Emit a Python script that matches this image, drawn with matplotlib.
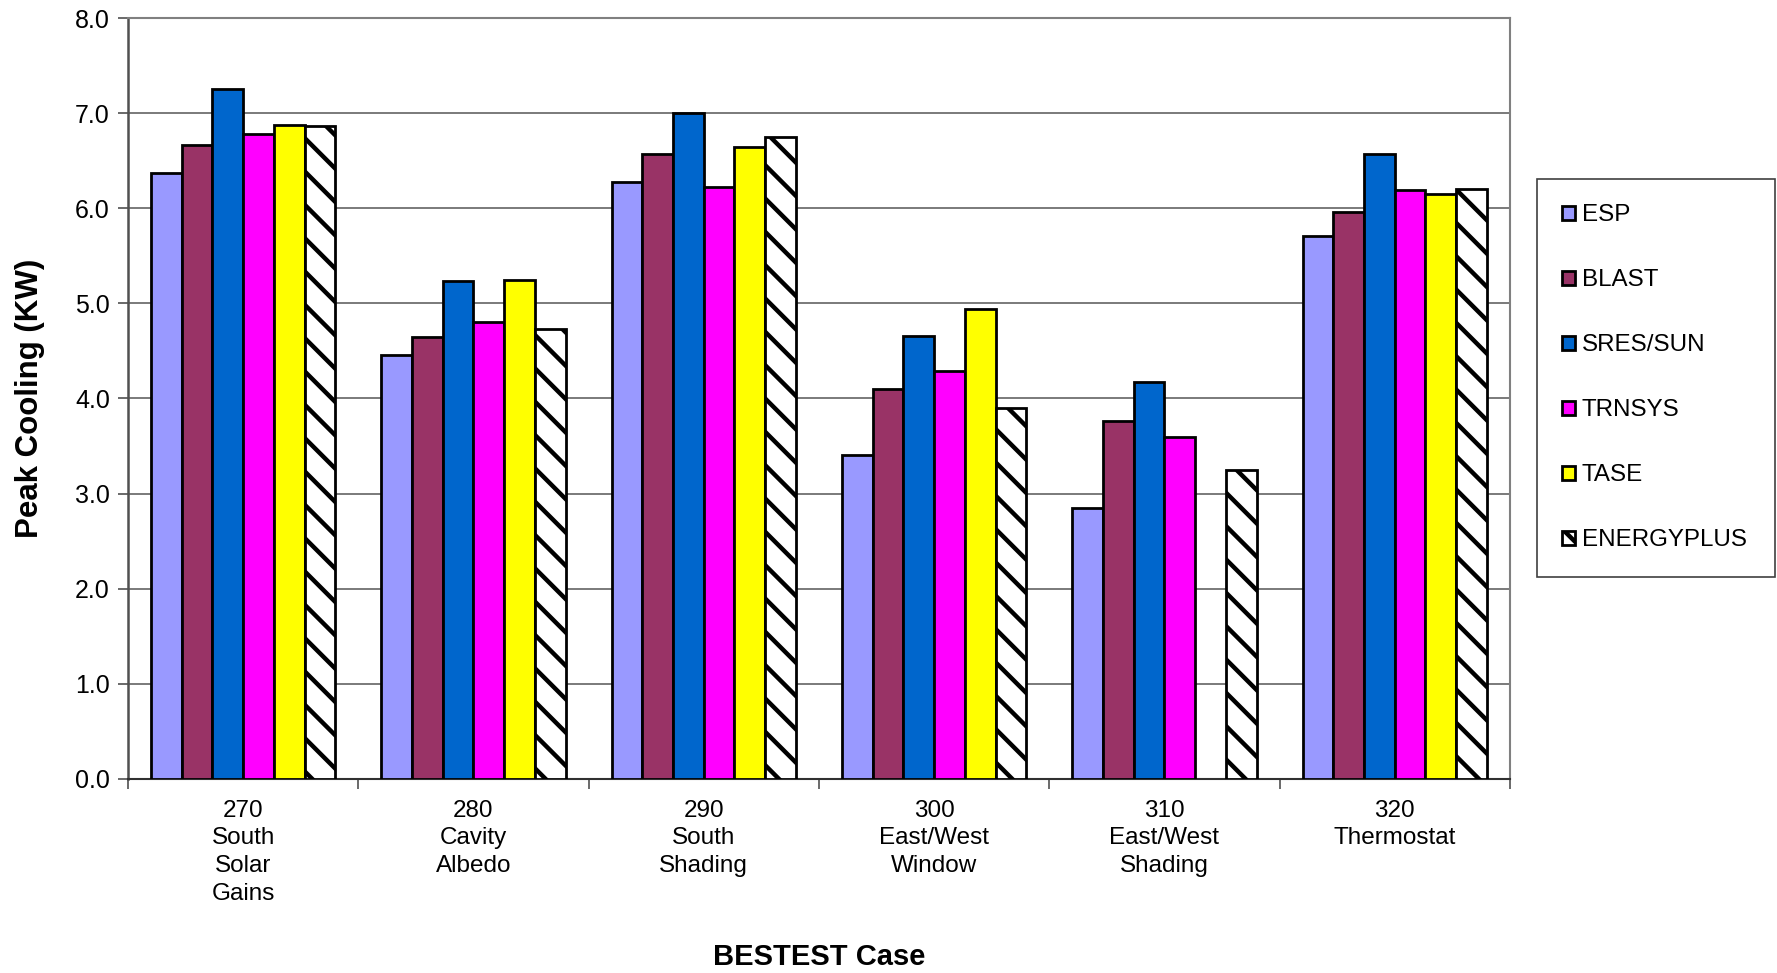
# peak cooling by BESTEST case, grouped bars per program
import matplotlib.pyplot as plt
import numpy as np

plt.rcParams['font.family'] = ['Liberation Sans', 'DejaVu Sans']
plt.rcParams['hatch.linewidth'] = 3.2

cases = ["270\nSouth\nSolar\nGains", "280\nCavity\nAlbedo", "290\nSouth\nShading",
         "300\nEast/West\nWindow", "310\nEast/West\nShading", "320\nThermostat"]
programs = ["ESP", "BLAST", "SRES/SUN", "TRNSYS", "TASE", "ENERGYPLUS"]

esp = [6.37, 4.46, 6.28, 3.41, 2.85, 5.71]
blast = [6.66, 4.65, 6.57, 4.10, 3.76, 5.96]
sres = [7.25, 5.23, 7.00, 4.66, 4.17, 6.57]
trnsys = [6.78, 4.80, 6.22, 4.29, 3.60, 6.19]
tase = [6.87, 5.25, 6.64, 4.94, np.nan, 6.15]
energyplus = [6.86, 4.73, 6.75, 3.90, 3.25, 6.20]

series = [esp, blast, sres, trnsys, tase, energyplus]
colors = ["#9999FF", "#993366", "#0066CC", "#FF00FF", "#FFFF00", "white"]
hatches = [None, None, None, None, None, "\\"]

fig = plt.figure(figsize=(17.77, 9.73), dpi=100)
ax = fig.add_axes([0.072, 0.1994, 0.7777, 0.7821])

x = np.arange(len(cases))
w = 1 / 7.5
for i, (vals, c, h, name) in enumerate(zip(series, colors, hatches, programs)):
    ax.bar(x + (i - 2.5) * w, vals, w, color=c, edgecolor="black", linewidth=2.0,
           hatch=h, label=name, zorder=3)

ax.set_xlim(-0.5, len(cases) - 0.5)
ax.set_ylim(0, 8)
ax.set_yticks(np.arange(0, 8.1, 1.0))
ax.set_yticklabels(["%.1f" % v for v in np.arange(0, 8.1, 1.0)])
ax.yaxis.grid(True, color="#707070", linewidth=1.3, zorder=0)
ax.set_xticks(x)
ax.set_xticklabels(cases, linespacing=1.33)
ax.set_xticks(np.arange(-0.5, len(cases), 1.0), minor=True)
ax.tick_params(axis="x", which="major", length=0, pad=15, labelsize=17.5)
ax.tick_params(axis="x", which="minor", length=7, width=1.2, color="#505050")
ax.tick_params(axis="y", length=7, width=1.2, color="#505050", pad=6, labelsize=18)

for s in ["top", "right"]:
    ax.spines[s].set_color("#808080")
    ax.spines[s].set_linewidth(1.5)
ax.spines["left"].set_color("#505050")
ax.spines["left"].set_linewidth(1.8)
ax.spines["bottom"].set_color("#303030")
ax.spines["bottom"].set_linewidth(1.5)

ax.set_ylabel("Peak Cooling (KW)", fontsize=22.5, fontweight="bold")
ax.yaxis.set_label_coords(-0.060, 0.5)
fig.text(0.461, 0.016, "BESTEST Case", fontsize=21, fontweight="bold",
         ha="center", va="center")

leg = fig.legend(loc="upper left", bbox_to_anchor=(0.865, 0.416, 0.134, 0.4),
                 mode="expand", fontsize=17.4,
                 handlelength=0.5, handleheight=0.5, handletextpad=0.3,
                 labelspacing=1.78, borderpad=1.05, fancybox=False, framealpha=1,
                 edgecolor="#404040", borderaxespad=0)
leg.get_frame().set_linewidth(1.2)
for hnd in leg.legend_handles:
    hnd.set_linewidth(2.0)

fig.savefig("out.png", dpi=100)
